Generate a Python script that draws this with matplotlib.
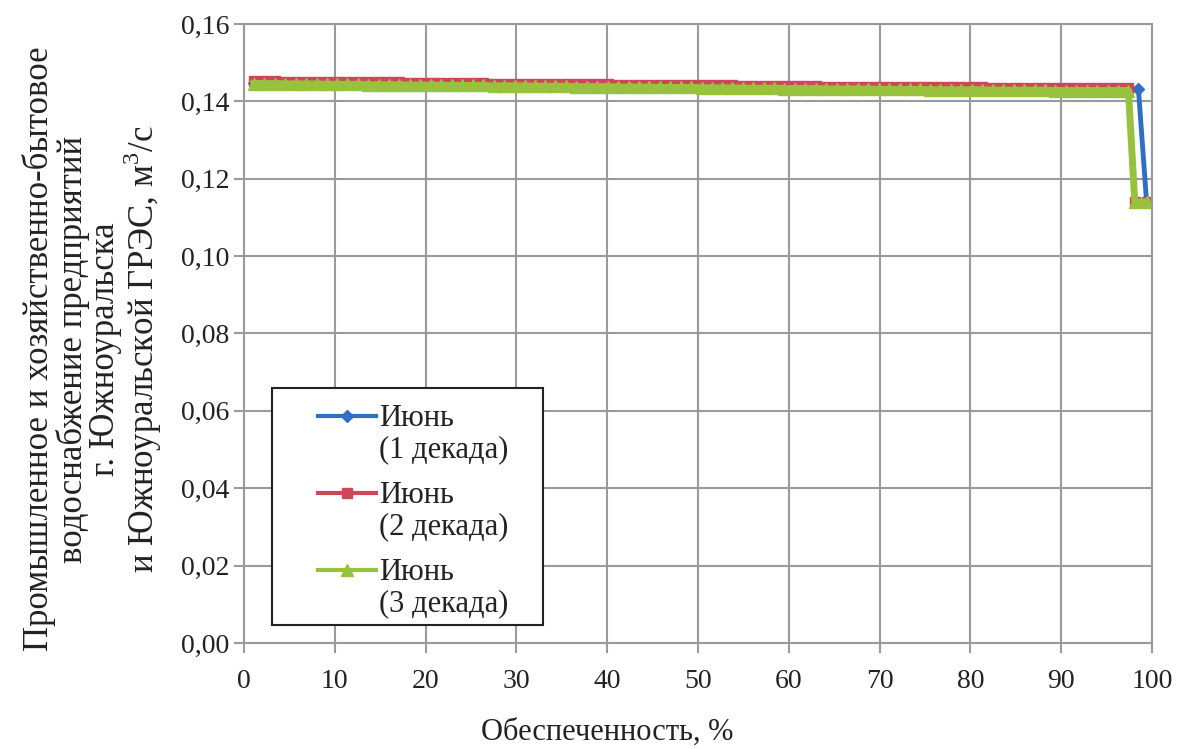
import matplotlib
matplotlib.use('Agg')
import numpy as np
import matplotlib.pyplot as plt
from matplotlib.legend_handler import HandlerLine2D
from matplotlib.patches import Rectangle
from matplotlib.ticker import FuncFormatter, MultipleLocator

# probability of exceedance, %, common part of all three curves
base_x = [1.1, 2.2, 3.4, 4.5, 5.7, 6.8, 8.0, 9.1, 10.3, 11.4,
          12.6, 13.7, 14.9, 16.0, 17.1, 18.3, 19.4, 20.6, 21.7, 22.9,
          24.0, 25.2, 26.3, 27.5, 28.6, 29.8, 30.9, 32.0, 33.2, 34.3,
          35.5, 36.6, 37.8, 38.9, 40.1, 41.2, 42.4, 43.5, 44.6, 45.8,
          46.9, 48.1, 49.2, 50.4, 51.5, 52.7, 53.8, 55.0, 56.1, 57.3,
          58.4, 59.5, 60.7, 61.8, 63.0, 64.1, 65.3, 66.4, 67.6, 68.7,
          69.9, 71.0, 72.2, 73.3, 74.4, 75.6, 76.7, 77.9, 79.0, 80.2,
          81.3, 82.5, 83.6, 84.8, 85.9, 87.1, 88.2, 89.3, 90.5, 91.6,
          92.8, 93.9, 95.1, 96.2, 97.4]

x_dec1 = base_x + [98.5, 99.4]
x_dec2 = base_x + [98.1, 99.4]
x_dec3 = base_x + [98.1, 99.4]

y_dec1 = [0.1448, 0.1448, 0.1448, 0.1447, 0.1447, 0.1447, 0.1447, 0.1446, 0.1446, 0.1446,
          0.1446, 0.1445, 0.1445, 0.1445, 0.1445, 0.1444, 0.1444, 0.1444, 0.1444, 0.1443,
          0.1443, 0.1443, 0.1443, 0.1442, 0.1442, 0.1442, 0.1442, 0.1441, 0.1441, 0.1441,
          0.1441, 0.1440, 0.1440, 0.1440, 0.1440, 0.1439, 0.1439, 0.1439, 0.1439, 0.1438,
          0.1438, 0.1438, 0.1438, 0.1437, 0.1437, 0.1437, 0.1437, 0.1436, 0.1436, 0.1436,
          0.1436, 0.1435, 0.1435, 0.1435, 0.1435, 0.1434, 0.1434, 0.1434, 0.1434, 0.1434,
          0.1433, 0.1433, 0.1433, 0.1433, 0.1433, 0.1432, 0.1432, 0.1432, 0.1432, 0.1432,
          0.1432, 0.1431, 0.1431, 0.1431, 0.1431, 0.1431, 0.1431, 0.1430, 0.1430, 0.1430,
          0.1430, 0.1430, 0.1430, 0.1430, 0.1430,
          0.1432, 0.1140]

y_dec2 = [0.1452, 0.1452, 0.1452, 0.1451, 0.1451, 0.1451, 0.1451, 0.1450, 0.1450, 0.1450,
          0.1450, 0.1449, 0.1449, 0.1449, 0.1449, 0.1448, 0.1448, 0.1448, 0.1448, 0.1447,
          0.1447, 0.1447, 0.1447, 0.1446, 0.1446, 0.1446, 0.1446, 0.1445, 0.1445, 0.1445,
          0.1445, 0.1444, 0.1444, 0.1444, 0.1444, 0.1443, 0.1443, 0.1443, 0.1443, 0.1442,
          0.1442, 0.1442, 0.1442, 0.1441, 0.1441, 0.1441, 0.1441, 0.1440, 0.1440, 0.1440,
          0.1440, 0.1439, 0.1439, 0.1439, 0.1439, 0.1438, 0.1438, 0.1438, 0.1438, 0.1438,
          0.1437, 0.1437, 0.1437, 0.1437, 0.1437, 0.1436, 0.1436, 0.1436, 0.1436, 0.1436,
          0.1436, 0.1435, 0.1435, 0.1435, 0.1435, 0.1435, 0.1435, 0.1434, 0.1434, 0.1434,
          0.1434, 0.1434, 0.1434, 0.1434, 0.1434,
          0.1140, 0.1140]

y_dec3 = [0.1446, 0.1446, 0.1446, 0.1445, 0.1445, 0.1445, 0.1445, 0.1444, 0.1444, 0.1444,
          0.1444, 0.1443, 0.1443, 0.1443, 0.1443, 0.1442, 0.1442, 0.1442, 0.1442, 0.1441,
          0.1441, 0.1441, 0.1441, 0.1440, 0.1440, 0.1440, 0.1440, 0.1439, 0.1439, 0.1439,
          0.1439, 0.1438, 0.1438, 0.1438, 0.1438, 0.1437, 0.1437, 0.1437, 0.1437, 0.1436,
          0.1436, 0.1436, 0.1436, 0.1435, 0.1435, 0.1435, 0.1435, 0.1434, 0.1434, 0.1434,
          0.1434, 0.1433, 0.1433, 0.1433, 0.1433, 0.1432, 0.1432, 0.1432, 0.1432, 0.1432,
          0.1431, 0.1431, 0.1431, 0.1431, 0.1431, 0.1430, 0.1430, 0.1430, 0.1430, 0.1430,
          0.1430, 0.1429, 0.1429, 0.1429, 0.1429, 0.1429, 0.1429, 0.1428, 0.1428, 0.1428,
          0.1428, 0.1428, 0.1428, 0.1428, 0.1428,
          0.1140, 0.1140]

labels = ['Июнь\n(1 декада)', 'Июнь\n(2 декада)', 'Июнь\n(3 декада)']

ylabel = ('Промышленное и хозяйственно-бытовое\n'
          'водоснабжение предприятий\n'
          'г. Южноуральска\n'
          'и Южноуральской ГРЭС, м$^3$/с')
xlabel = 'Обеспеченность, %'


class FirstLineHandler(HandlerLine2D):
    """Puts the legend line level with the first line of a two-line label."""
    def create_artists(self, legend, orig_handle, xdescent, ydescent,
                       width, height, fontsize, trans):
        artists = super().create_artists(legend, orig_handle, xdescent, ydescent,
                                          width, height, fontsize, trans)
        for a in artists:
            a.set_ydata(np.asarray(a.get_ydata()) + 0.58 * fontsize)
        return artists


plt.rcParams['font.family'] = ['Liberation Serif', 'DejaVu Serif']
plt.rcParams['mathtext.fontset'] = 'custom'
plt.rcParams['mathtext.rm'] = 'Liberation Serif'

fig = plt.figure(figsize=(11.84, 7.49), dpi=100)
ax = fig.add_axes([0.206, 0.1415, 0.767, 0.8265])

gray = '#9a9a9a'
txt = '#222222'
l1, = ax.plot(x_dec1, y_dec1, color='#2f6fc4', lw=3.5, marker='D', ms=6, label=labels[0])
l2, = ax.plot(x_dec2, y_dec2, color='#d0455a', lw=3, marker='s', ms=7, label=labels[1])
l3, = ax.plot(x_dec3, y_dec3, color='#98c13d', lw=5, marker='^', ms=8, label=labels[2])

ax.set_xlim(0, 100)
ax.set_ylim(0, 0.16)
ax.xaxis.set_major_locator(MultipleLocator(10))
ax.yaxis.set_major_locator(MultipleLocator(0.02))
ax.yaxis.set_major_formatter(FuncFormatter(lambda v, p: '{:.2f}'.format(v).replace('.', ',')))
ax.grid(True, color=gray, lw=1.5)
ax.set_axisbelow(True)
for s in ax.spines.values():
    s.set_color(gray)
    s.set_linewidth(1.5)
ax.tick_params(colors=gray, labelcolor=txt, labelsize=20, width=1.5, length=7)
ax.tick_params(axis='x', pad=12)

ax.set_ylabel(ylabel, fontsize=25, color=txt, linespacing=0.98)
ax.yaxis.set_label_coords(-0.0875, 0.475)
ax.set_xlabel(xlabel, fontsize=22, color=txt)
ax.xaxis.set_label_coords(0.40, -0.121)

# legend frame as in the original (wide left margin)
ax.add_patch(Rectangle((0.031, 0.029), 0.298, 0.383, transform=ax.transAxes,
                       facecolor='white', edgecolor=txt, lw=1.5, zorder=4))
leg = ax.legend(handles=[l1, l2, l3], loc='upper left', bbox_to_anchor=(0.058, 0.421),
                fontsize=22, frameon=False, numpoints=1,
                handlelength=1.9, borderpad=0.2, labelspacing=0.55, handletextpad=0.1,
                handler_map={matplotlib.lines.Line2D: FirstLineHandler()})
leg.set_zorder(5)
for t in leg.get_texts():
    t.set_linespacing(1.1)
    t.set_color(txt)
for h in leg.legend_handles:
    h.set_linewidth(3)

fig.savefig('out.png', dpi=100)
